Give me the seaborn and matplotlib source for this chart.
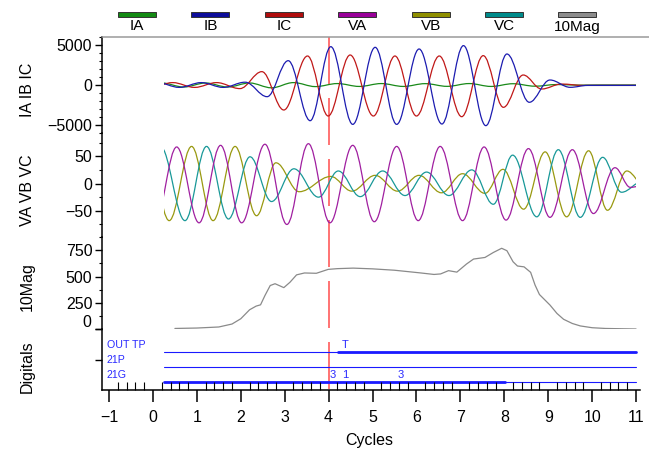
import matplotlib
matplotlib.use("Agg")
import matplotlib.pyplot as plt
import matplotlib.ticker as mticker
from matplotlib.path import Path
from matplotlib.patches import PathPatch, Rectangle
from matplotlib.lines import Line2D
import seaborn as sns

# ---------------------------------------------------------------------------
# Data (time axis in cycles)
# Waveforms are given as their successive peaks / troughs (half-cycle extrema)
# ---------------------------------------------------------------------------
REC_START, REC_END = 0.25, 11.0
CURSOR_T = 4.0

IA_T = [0.2, 0.7, 1.2, 1.7, 2.2, 2.7, 3.2, 3.7, 4.2, 4.7, 5.2, 5.7, 6.2, 6.7,
        7.2, 7.7, 8.2, 8.7, 9.2, 9.7, 10.2, 11.0]
IA_V = [250, -250, 250, -250, 250, -350, 300, -200, 180, -180, 180, -180, 170,
        -170, 180, -180, 160, -150, 60, -20, 0, 0]

IB_T = [0.1, 0.6, 1.1, 1.6, 2.1, 2.6, 3.08, 3.58, 4.05, 4.55, 5.06, 5.55, 6.06,
        6.58, 7.07, 7.58, 8.06, 8.57, 9.04, 9.5, 9.9, 11.0]
IB_V = [300, -300, 300, -300, 350, -1460, 3040, -4460, 4790, -4920, 4710, -4920,
        4500, -4875, 4920, -5080, 3875, -2160, 625, -290, -50, -50]

IC_T = [-0.05, 0.45, 0.95, 1.45, 1.98, 2.48, 2.98, 3.52, 3.99, 4.49, 5.02, 5.51,
        6.0, 6.52, 7.03, 7.52, 7.98, 8.43, 8.85, 9.3, 9.8, 11.0]
IC_V = [-300, 300, -300, 300, -450, 1670, -3125, 3625, -3875, 3750, -3875, 3625,
        -3875, 3625, -3960, 3670, -2790, 1250, -500, 120, -50, -50]

VA_T = [0.04, 0.54, 1.05, 1.54, 2.02, 2.55, 3.05, 3.54, 4.03, 4.55, 5.04, 5.55,
        6.04, 6.54, 7.05, 7.54, 8.04, 8.55, 9.04, 9.55, 10.03, 10.52, 10.87, 11.2]
VA_V = [-72, 67, -72, 70, -72, 72, -75, 73, -72, 70, -70, 68, -68, 68, -68, 67,
        -67, 64, -62, 62, -55, 29, -7, -3]

VB_T = [-0.13, 0.37, 0.88, 1.37, 1.87, 2.36, 2.8, 3.33, 4.05, 4.53, 5.06, 5.57,
        6.06, 6.57, 7.05, 7.56, 7.97, 8.44, 8.93, 9.42, 9.92, 10.35, 10.79, 11.2]
VB_V = [68, -68, 68, -68, 68, -59, 38, -15, 13, -14, 15, -14, 15, -17, 18, -18,
        26, -47, 58, -61, 60, -49, 23, -5]

VC_T = [0.17, 0.73, 1.22, 1.72, 2.21, 2.7, 3.21, 3.77, 4.22, 4.72, 5.23, 5.74,
        6.23, 6.74, 7.26, 7.75, 8.19, 8.74, 9.23, 9.73, 10.24, 10.67, 11.15]
VC_V = [68, -68, 68, -65, 49, -33, 27, -25, 23, -24, 23, -22, 21, -22, 25, -38,
        52, -61, 62, -62, 48, -16, 4]

MAG_T = [0.5, 1.0, 1.5, 1.8, 2.0, 2.2, 2.35, 2.45, 2.55, 2.67, 2.78, 2.9, 2.98,
         3.12, 3.27, 3.45, 3.72, 3.99, 4.2, 4.56, 5.0, 5.5, 6.08, 6.4, 6.55,
         6.73, 6.92, 7.14, 7.3, 7.56, 7.75, 7.94, 8.06, 8.2, 8.3, 8.45, 8.6,
         8.7, 8.8, 9.04, 9.2, 9.35, 9.55, 9.73, 10.0, 10.3, 10.7, 11.0]
MAG_V = [8, 12, 22, 50, 100, 185, 220, 232, 320, 415, 432, 410, 395, 446, 516,
         534, 531, 568, 575, 580, 573, 560, 535, 520, 525, 556, 542, 619, 666,
         681, 728, 768, 745, 640, 600, 592, 540, 420, 330, 230, 150, 95, 55, 32,
         15, 8, 5, 3]

DIGITAL_NAMES = ["OUT TP", "21P", "21G"]
DIGITAL_ON = [(4.21, 11.0), None, (0.25, 8.02)]
EVENT_TEXT = ["T", "3", "1", "3"]
EVENT_T = [4.37, 4.10, 4.37, 5.63]
EVENT_ROW = [0, 2, 2, 2]

LEGEND_NAMES = ["IA", "IB", "IC", "VA", "VB", "VC", "10Mag"]

COLORS = {
    "IA": "#1a8a1a", "IB": "#1c1cb0", "IC": "#c01818",
    "VA": "#a01fa0", "VB": "#999910", "VC": "#189898", "10Mag": "#8a8a8a",
}
BAR_COLORS = {
    "IA": "#138a13", "IB": "#0d0d9a", "IC": "#b00d0d",
    "VA": "#990099", "VB": "#8f8f00", "VC": "#008b8b", "10Mag": "#8c8c8c",
}
DIG_BLUE = "#1a1aff"

# ---------------------------------------------------------------------------
# Layout helpers (pixel based, figure is 649 x 451 px)
# ---------------------------------------------------------------------------
W, H = 649, 451
X0, X1 = 102, 640
XLIM = (-1.16, 11.09)
FS = 11.5
K = 0.364  # bezier handle so each half-cycle arc looks sinusoidal


def frect(x0, y0, x1, y1):
    return [x0 / W, 1 - y1 / H, (x1 - x0) / W, (y1 - y0) / H]


def draw_wave(ax, ts, vs, color):
    verts = [(ts[0], vs[0])]
    codes = [Path.MOVETO]
    for i in range(len(ts) - 1):
        dt = ts[i + 1] - ts[i]
        verts += [(ts[i] + K * dt, vs[i]), (ts[i + 1] - K * dt, vs[i + 1]),
                  (ts[i + 1], vs[i + 1])]
        codes += [Path.CURVE4] * 3
    patch = PathPatch(Path(verts, codes), facecolor="none", edgecolor=color,
                      lw=0.9, zorder=2)
    ax.add_patch(patch)
    clip = Rectangle((REC_START, -1e5), REC_END - REC_START, 2e5,
                     transform=ax.transData)
    patch.set_clip_path(clip)


def style_panel(ax, ylim, major, minor):
    ax.set_xlim(*XLIM)
    ax.set_ylim(*ylim)
    ax.patch.set_visible(False)
    for s in ["top", "right", "bottom"]:
        ax.spines[s].set_visible(False)
    ax.spines["left"].set_color("black")
    ax.spines["left"].set_linewidth(1.1)
    ax.tick_params(axis="x", which="both", bottom=False, labelbottom=False)
    if major:
        ax.yaxis.set_major_locator(mticker.MultipleLocator(major))
    if minor:
        ax.yaxis.set_minor_locator(mticker.MultipleLocator(minor))
    ax.tick_params(axis="y", which="major", left=True, direction="out",
                   length=5, width=1.0, pad=2, labelsize=FS, colors="black")
    ax.tick_params(axis="y", which="minor", left=True, direction="out",
                   length=2.5, width=0.8, colors="black")


sns.set_theme(style="white")
plt.rcParams["font.family"] = ["Liberation Sans", "DejaVu Sans"]

fig = plt.figure(figsize=(W / 100, H / 100), dpi=100)

# cursor axis sits underneath the panels (drawn top to bottom so the
# dash pattern starts at the top border)
cur_ax = fig.add_axes(frect(X0, 37, X1, 400), zorder=0)
cur_ax.set_xlim(*XLIM)
cur_ax.set_ylim(0, 1)
cur_ax.axis("off")
lw_cur = 1.1
cur_ax.plot([CURSOR_T, CURSOR_T], [1, 0], color="#ff4d4d", lw=lw_cur,
            dashes=(47 * 0.72 / lw_cur, 14 * 0.72 / lw_cur))

ax1 = fig.add_axes(frect(X0, 37, X1, 133), zorder=1)
ax2 = fig.add_axes(frect(X0, 133, X1, 237), zorder=1)
ax3 = fig.add_axes(frect(X0, 237, X1, 329.3), zorder=1)
ax4 = fig.add_axes(frect(X0, 329.3, X1, 390), zorder=1)

# currents
style_panel(ax1, (-6000, 6000), 5000, 1000)
draw_wave(ax1, IA_T, IA_V, COLORS["IA"])
draw_wave(ax1, IC_T, IC_V, COLORS["IC"])
draw_wave(ax1, IB_T, IB_V, COLORS["IB"])

# voltages
style_panel(ax2, (-98, 92.6), 50, 25)
draw_wave(ax2, VB_T, VB_V, COLORS["VB"])
draw_wave(ax2, VC_T, VC_V, COLORS["VC"])
draw_wave(ax2, VA_T, VA_V, COLORS["VA"])

# 10Mag
style_panel(ax3, (0, 875), 250, 125)
sns.lineplot(x=MAG_T, y=MAG_V, ax=ax3, color=COLORS["10Mag"], lw=0.9)
ax3.yaxis.set_major_formatter(
    mticker.FuncFormatter(lambda v, p: "" if v == 0 else f"{v:.0f}"))
ax3.annotate("0", xy=(0, 0), xycoords=("axes fraction", "data"),
             xytext=(-7.5, 5), textcoords="offset points", ha="right",
             va="center", fontsize=FS, color="black")
ax3.set_xlim(*XLIM)

# digitals
style_panel(ax4, (0, 4), None, None)
ax4.set_yticks([2, 4])
ax4.set_yticklabels([])
ax4.set_axisbelow(False)
ax4.spines["bottom"].set_visible(True)
ax4.spines["bottom"].set_color("black")
ax4.spines["bottom"].set_linewidth(1.1)
ax4.xaxis.set_major_locator(mticker.MultipleLocator(1))
ax4.xaxis.set_minor_locator(mticker.MultipleLocator(0.2))
ax4.tick_params(axis="x", which="major", bottom=True, labelbottom=True,
                direction="out", length=8.6, width=1.1, pad=6,
                labelsize=FS, colors="black")
ax4.tick_params(axis="x", which="minor", bottom=True, direction="in",
                length=5.8, width=0.8, colors="black")
rows = [2.5, 1.5, 0.5]
for name, on, row in zip(DIGITAL_NAMES, DIGITAL_ON, rows):
    sns.lineplot(x=[REC_START, REC_END], y=[row, row], ax=ax4,
                 color=DIG_BLUE, lw=0.8, zorder=1)
    if on is not None:
        sns.lineplot(x=list(on), y=[row, row], ax=ax4, color=DIG_BLUE,
                     lw=2.0, zorder=1)
    ax4.text(-1.05, row + 0.46, name, fontsize=7.7, color="#2a2aff",
             va="center", ha="left")
for txt, t, r in zip(EVENT_TEXT, EVENT_T, EVENT_ROW):
    ax4.text(t, rows[r] + 0.48, txt, fontsize=8, color="#2a2aff",
             va="center", ha="center")
ax4.set_xlim(*XLIM)
ax4.set_xlabel("")
ax4.set_ylabel("")

# top border line
fig.add_artist(Line2D([X0 / W, 1.0], [1 - 37 / H] * 2, color="#9a9a9a",
                      lw=1.1))

# y labels
for txt, yc in [("IA IB IC", 90), ("VA VB VC", 190), ("10Mag", 287),
                ("Digitals", 367)]:
    fig.text(27 / W, 1 - yc / H, txt, rotation=90, ha="center", va="center",
             fontsize=FS, color="black")
fig.text(369 / W, 1 - 445 / H, "Cycles", ha="center", va="baseline",
         fontsize=FS, color="black")

# legend strip along the top
for i, name in enumerate(LEGEND_NAMES):
    cx = 137 + i * 73.4
    fig.add_artist(Rectangle(((cx - 19) / W, 1 - 16.5 / H), 38 / W, 4 / H,
                             transform=fig.transFigure,
                             facecolor=BAR_COLORS[name], edgecolor="#333333",
                             lw=0.7))
    fig.text(cx / W, 1 - 30.5 / H, name, ha="center", va="baseline",
             fontsize=11, color="black")

fig.savefig("out.png", dpi=100)
